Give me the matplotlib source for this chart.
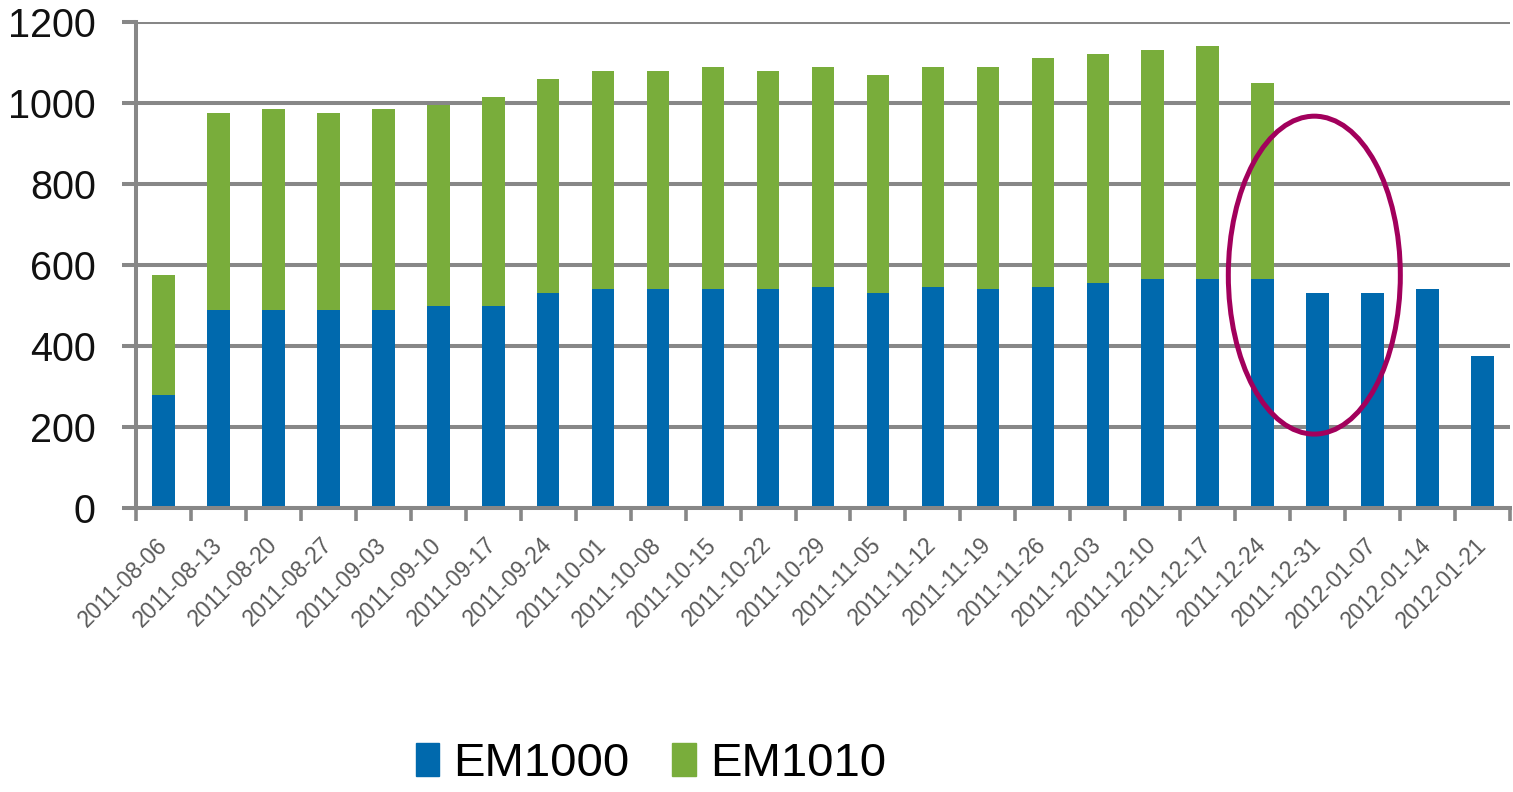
import numpy as np
import matplotlib
matplotlib.use('Agg')
import matplotlib.pyplot as plt
from matplotlib.patches import Ellipse, Patch

plt.rcParams['font.family'] = ['Liberation Sans', 'DejaVu Sans']

weeks = ['2011-08-06', '2011-08-13', '2011-08-20', '2011-08-27', '2011-09-03',
         '2011-09-10', '2011-09-17', '2011-09-24', '2011-10-01', '2011-10-08',
         '2011-10-15', '2011-10-22', '2011-10-29', '2011-11-05', '2011-11-12',
         '2011-11-19', '2011-11-26', '2011-12-03', '2011-12-10', '2011-12-17',
         '2011-12-24', '2011-12-31', '2012-01-07', '2012-01-14', '2012-01-21']
em1000 = [280, 490, 490, 490, 490, 500, 500, 530, 540, 540, 540, 540, 545,
          530, 545, 540, 545, 555, 565, 565, 565, 530, 530, 540, 375]
em1010 = [295, 485, 495, 485, 495, 495, 515, 530, 540, 540, 550, 540, 545,
          540, 545, 550, 565, 565, 565, 575, 485, 0, 0, 0, 0]

blue = '#0069ad'
green = '#79ad3b'
grid = '#878787'

fig = plt.figure(figsize=(15.13, 7.92), dpi=100)
ax = fig.add_axes([0.0899, 0.3586, 0.9081, 0.6136])

x = np.arange(len(weeks))
ax.bar(x, em1000, width=0.41, color=blue, zorder=3, label='EM1000')
ax.bar(x, em1010, width=0.41, bottom=em1000, color=green, zorder=3, label='EM1010')

# highlight the last weeks
ax.add_patch(Ellipse((20.94, 575), 3.13, 785, fill=False, edgecolor='#a2005c',
                     linewidth=3.6, zorder=4, clip_on=False))

ax.set_xlim(-0.5, len(weeks) - 0.5)
ax.set_ylim(0, 1200)
ax.set_yticks(np.arange(0, 1201, 200))
ax.yaxis.grid(True, color=grid, linewidth=2.9, zorder=0)
ax.tick_params(axis='y', length=10, width=2.9, color=grid, pad=19, labelsize=28.5,
               labelcolor='#111111')

# category boundaries get tick marks, category centres get the labels
ax.set_xticks(np.arange(-0.5, len(weeks), 1.0))
ax.set_xticklabels([])
ax.tick_params(axis='x', which='major', length=9, width=2.6, color=grid, direction='out')
ax.set_xticks(x, minor=True)
ax.set_xticklabels(weeks, minor=True, rotation=45, ha='right', va='center',
                   rotation_mode='anchor', fontsize=16.5, color='#5a5a5a')
ax.tick_params(axis='x', which='minor', length=0, pad=24)

for side in ['top', 'right']:
    ax.spines[side].set_visible(False)
ax.spines['left'].set_color(grid)
ax.spines['left'].set_linewidth(2.9)
ax.spines['bottom'].set_color(grid)
ax.spines['bottom'].set_linewidth(2.9)
ax.spines['left'].set_zorder(5)
ax.spines['bottom'].set_zorder(5)

handles = [Patch(color=blue), Patch(color=green)]
fig.legend(handles, ['EM1000', 'EM1010'], loc='center', ncol=2,
           bbox_to_anchor=(651 / 1513, 1 - 764 / 792), frameon=False,
           prop={'size': 34},
           handlelength=0.5, handleheight=0.72, handletextpad=0.3, columnspacing=0.9)

fig.savefig('out.png', dpi=100)
